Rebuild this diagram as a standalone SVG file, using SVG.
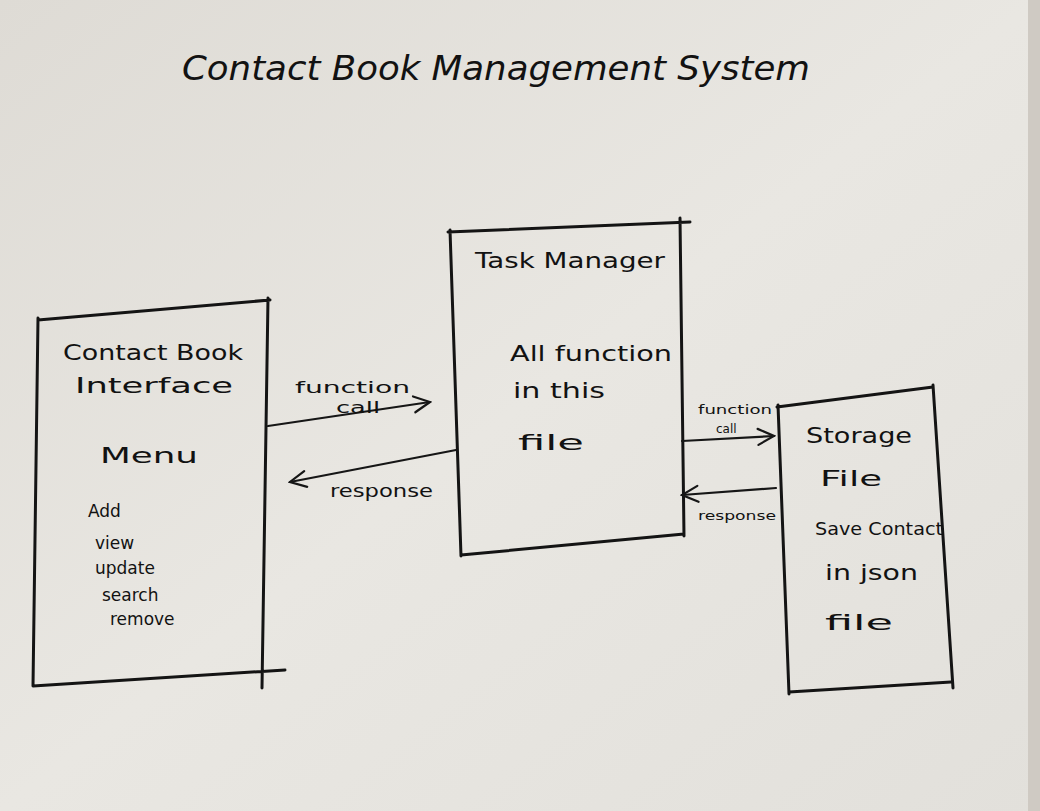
<svg xmlns="http://www.w3.org/2000/svg" width="1040" height="811" viewBox="0 0 1040 811">
<defs>
<linearGradient id="paper" x1="0" y1="0" x2="1" y2="1">
<stop offset="0" stop-color="#dedbd5"/>
<stop offset="0.5" stop-color="#e9e7e2"/>
<stop offset="1" stop-color="#e2e0db"/>
</linearGradient>
<marker id="open" viewBox="0 0 20 20" refX="18" refY="10" markerWidth="20" markerHeight="20" markerUnits="userSpaceOnUse" orient="auto">
<path d="M2,2 L18,10 L2,18" fill="none" stroke="#161616" stroke-width="2.2" stroke-linecap="round"/>
</marker>
</defs>
<style>
.box{fill:none;stroke:#141414;stroke-width:3;stroke-linejoin:round;stroke-linecap:round}
.ln{fill:none;stroke:#161616;stroke-width:2.2;stroke-linecap:round}
text{font-family:"DejaVu Sans","Liberation Sans",sans-serif;fill:#121212}
.t{font-size:22px}
.s{font-size:17px}
.xs{font-size:13px}
.xxs{font-size:12px}
</style>
<rect width="1040" height="811" fill="url(#paper)"/>
<rect x="1028" y="0" width="12" height="811" fill="#cfcac3"/>
<text id="title" x="182" y="80" font-size="34" font-style="italic" textLength="628" lengthAdjust="spacingAndGlyphs">Contact Book Management System</text>

<g id="interface">
<path class="box" d="M38,320 L270,300 M268,298 L262,688 M33,686 L285,670 M38,318 L33,686"/>
<text class="t" x="63" y="360" textLength="180" lengthAdjust="spacingAndGlyphs">Contact Book</text>
<text class="t" x="75" y="393" textLength="158" lengthAdjust="spacingAndGlyphs">Interface</text>
<text class="t" x="100" y="463" textLength="98" lengthAdjust="spacingAndGlyphs">Menu</text>
<text class="s" x="88" y="517">Add</text>
<text class="s" x="95" y="549">view</text>
<text class="s" x="95" y="574">update</text>
<text class="s" x="102" y="601">search</text>
<text class="s" x="110" y="625">remove</text>
</g>

<g id="task-manager">
<path class="box" d="M448,232 L690,222 M680,218 L684,536 M461,555 L684,534 M450,230 L461,556"/>
<text class="t" x="475" y="268" textLength="190" lengthAdjust="spacingAndGlyphs">Task Manager</text>
<text class="t" x="510" y="361" textLength="162" lengthAdjust="spacingAndGlyphs">All function</text>
<text class="t" x="513" y="398" textLength="92" lengthAdjust="spacingAndGlyphs">in this</text>
<text class="t" x="518" y="450" textLength="66" lengthAdjust="spacingAndGlyphs">file</text>
</g>

<g id="storage">
<path class="box" d="M777,407 L933,387 M933,385 L953,688 M789,692 L951,682 M778,405 L789,694"/>
<text class="t" x="806" y="443" textLength="106" lengthAdjust="spacingAndGlyphs">Storage</text>
<text class="t" x="820" y="486" textLength="62" lengthAdjust="spacingAndGlyphs">File</text>
<text class="s" x="815" y="535" textLength="128" lengthAdjust="spacingAndGlyphs">Save Contact</text>
<text class="t" x="825" y="580" textLength="93" lengthAdjust="spacingAndGlyphs">in json</text>
<text class="t" x="825" y="630" textLength="68" lengthAdjust="spacingAndGlyphs">file</text>
</g>

<g id="connectors">
<line class="ln" x1="268" y1="426" x2="430" y2="402" marker-end="url(#open)"/>
<line class="ln" x1="456" y1="450" x2="290" y2="482" marker-end="url(#open)"/>
<line class="ln" x1="682" y1="441" x2="774" y2="436" marker-end="url(#open)"/>
<line class="ln" x1="776" y1="488" x2="682" y2="495" marker-end="url(#open)"/>
<text x="295" y="393" font-size="16" textLength="115" lengthAdjust="spacingAndGlyphs">function</text>
<text x="336" y="413" font-size="15" textLength="44" lengthAdjust="spacingAndGlyphs">call</text>
<text x="330" y="497" font-size="17" textLength="103" lengthAdjust="spacingAndGlyphs">response</text>
<text class="xxs" x="698" y="414" textLength="74" lengthAdjust="spacingAndGlyphs">function</text>
<text class="xxs" x="716" y="433">call</text>
<text class="xs" x="698" y="520" textLength="78" lengthAdjust="spacingAndGlyphs">response</text>
</g>
</svg>
